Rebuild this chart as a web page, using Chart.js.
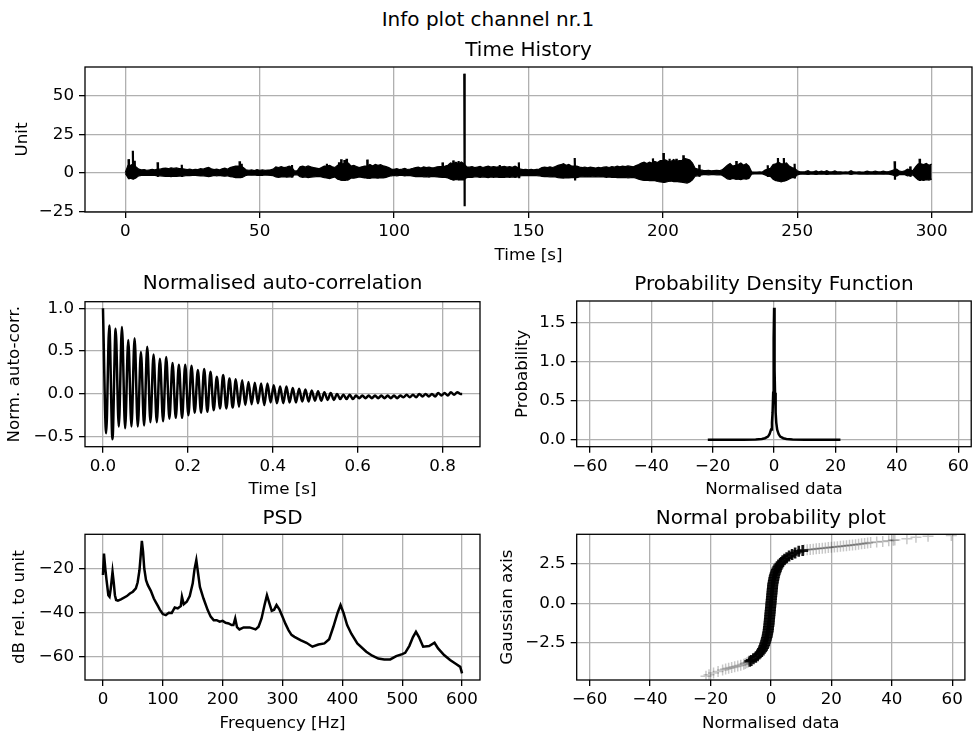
<!DOCTYPE html>
<html>
<head>
<meta charset="utf-8">
<script src="https://cdn.jsdelivr.net/npm/chart.js"></script>
<style>
html, body { margin: 0; padding: 0; background: #fff; overflow: hidden; }
body { width: 973px; height: 735px; position: relative; font-family: 'DejaVu Sans', sans-serif; }
canvas { position: absolute; }
#suptitle { position: absolute; left: 0; width: 976px; top: 7px; line-height: 24px; font-size: 20px; text-align: center; color: #000; }
</style>
</head>
<body>
<div id="suptitle">Info plot channel nr.1</div>
<canvas id="cTime"></canvas>
<canvas id="cCorr"></canvas>
<canvas id="cPdf"></canvas>
<canvas id="cPsd"></canvas>
<canvas id="cProb"></canvas>
<script>
// ---- time history: background band of the signal, one value per second ----
var thTime = [
  0,1,2,3,4,5,6,7,8,9,10,11,12,13,14,15,16,17,18,19,
  20,21,22,23,24,25,26,27,28,29,30,31,32,33,34,35,36,37,38,39,
  40,41,42,43,44,45,46,47,48,49,50,51,52,53,54,55,56,57,58,59,
  60,61,62,63,64,65,66,67,68,69,70,71,72,73,74,75,76,77,78,79,
  80,81,82,83,84,85,86,87,88,89,90,91,92,93,94,95,96,97,98,99,
  100,101,102,103,104,105,106,107,108,109,110,111,112,113,114,115,116,117,118,119,
  120,121,122,123,124,125,126,127,128,129,130,131,132,133,134,135,136,137,138,139,
  140,141,142,143,144,145,146,147,148,149,150,151,152,153,154,155,156,157,158,159,
  160,161,162,163,164,165,166,167,168,169,170,171,172,173,174,175,176,177,178,179,
  180,181,182,183,184,185,186,187,188,189,190,191,192,193,194,195,196,197,198,199,
  200,201,202,203,204,205,206,207,208,209,210,211,212,213,214,215,216,217,218,219,
  220,221,222,223,224,225,226,227,228,229,230,231,232,233,234,235,236,237,238,239,
  240,241,242,243,244,245,246,247,248,249,250,251,252,253,254,255,256,257,258,259,
  260,261,262,263,264,265,266,267,268,269,270,271,272,273,274,275,276,277,278,279,
  280,281,282,283,284,285,286,287,288,289,290,291,292,293,294,295,296,297,298,299,
  300
];
var thUpper = [
  0.3, 5, 5, 6, 4, 2.5, 2, 2.2, 1.8, 2,
  2.3, 2, 2.5, 2.5, 3, 3.2, 2.8, 3.4, 3, 3.3,
  2.8, 2.8, 2.6, 2.2, 2.5, 2, 2.4, 2.2, 2.8, 2.5,
  3.2, 3.6, 2.8, 2.2, 2.5, 2, 2.7, 3.1, 2.5, 3.5,
  4, 4.5, 4.5, 4.5, 3.5, 2, 1.8, 2, 1.6, 2.2,
  1.8, 2, 1.7, 1.9, 2.1, 2.5, 4, 3.6, 4.2, 3.5,
  3.8, 4.5, 3.5, 1.2, 1.5, 4, 4.5, 3.8, 4.6, 4,
  3.6, 3.2, 2.8, 3.5, 4.5, 4.5, 5, 4, 3.6, 5,
  6, 6, 6.5, 6.5, 4.5, 5, 4.2, 3.5, 4, 4.5,
  4.5, 5.5, 4.5, 5.6, 5, 5.4, 4.6, 4.2, 3.5, 2.6,
  2.4, 2.8, 2.2, 2.5, 3, 2.3, 2.6, 3, 3.5, 3.8,
  3.2, 4, 3.5, 3.9, 3.3, 3.6, 4, 4.2, 4.2, 4.5,
  5, 6.5, 6, 7, 6, 7.2, 6, 4, 3.8, 4.2,
  3.5, 3.9, 4.3, 3.6, 4, 4.4, 3.8, 4.2, 3.9, 4,
  4, 4.3, 3.8, 4.1, 3.7, 4.5, 3.5, 2.5, 2.2, 2.4,
  2, 2.3, 2.1, 2.4, 2.6, 3.5, 3.8, 3.5, 4, 3.6,
  4.2, 5, 5.4, 6, 5, 5.6, 4.5, 4.5, 4.5, 3.8,
  3.5, 3.9, 3.4, 3.8, 3.5, 3.2, 3.6, 3.3, 3.8, 4,
  3.6, 4.2, 3.8, 4.4, 4, 4.5, 4.2, 4.6, 4.3, 4,
  4.8, 5.5, 6.5, 7.1, 6.2, 7, 6.5, 7.5, 6.8, 8,
  8, 8.5, 7.5, 7.5, 8.8, 7.5, 8, 8, 9.5, 9,
  8.4, 6.5, 3, 2.5, 2, 1.7, 1.5, 1.8, 1.4, 1.6,
  1.8, 1.5, 2, 3.5, 5, 6.2, 4.5, 5, 5.5, 6.5,
  5, 6, 4.5, 0.8, 0.6, 0.6, 0.7, 0.6, 2, 2.5,
  3, 5.5, 6, 7, 6, 6, 6.5, 4.5, 3.5, 3,
  1.5, 0.8, 0.7, 0.9, 1.5, 0.7, 0.8, 1.4, 0.7, 1.2,
  0.8, 1.5, 0.7, 0.8, 1.4, 0.7, 0.8, 0.6, 0.7, 0.6,
  1.5, 0.7, 0.6, 0.8, 0.6, 0.7, 1.2, 0.8, 0.7, 1.3,
  0.8, 0.7, 1.2, 0.8, 1, 1.5, 2, 2.5, 1.2, 1,
  1.5, 2.5, 2, 1.5, 4, 6, 6, 5.5, 6.2, 5,
  5.8
];
var thLower = [
  -0.3, -3, -3.5, -4, -3, -1.8, -1.5, -1.6, -1.4, -1.5,
  -1.6, -1.5, -1.8, -1.8, -2, -2.2, -2, -2.3, -2, -2.2,
  -2, -2, -1.8, -1.6, -1.7, -1.5, -1.6, -1.7, -1.9, -1.8,
  -2.1, -2.4, -2, -1.6, -1.8, -1.5, -1.9, -2.1, -1.8, -2.4,
  -2.6, -3, -3, -3, -2.4, -1.5, -1.3, -1.4, -1.3, -1.5,
  -1.4, -1.5, -1.3, -1.4, -1.5, -1.7, -2.6, -2.8, -2.6, -2.4,
  -2.7, -2.5, -2.5, -1, -1.2, -2.4, -2.8, -2.5, -3, -2.7,
  -2.5, -2.4, -2.2, -2.6, -3, -3.2, -3.6, -3, -2.6, -4,
  -4.5, -4.8, -4.5, -4.4, -3.2, -3.4, -3, -2.6, -2.8, -3.2,
  -3.2, -3.5, -3, -3.2, -3.4, -3, -3.2, -2.8, -2.2, -1.8,
  -1.6, -1.8, -1.5, -1.6, -1.9, -1.6, -1.7, -2, -2.3, -2.4,
  -2.2, -2.5, -2.3, -2.6, -2.2, -2.4, -2.6, -2.7, -2.8, -2.8,
  -3.2, -4, -4.5, -4.2, -4.4, -4.5, -4.5, -3, -2.7, -2.8,
  -2.5, -2.6, -2.8, -2.5, -2.7, -3, -2.6, -2.8, -2.6, -2.8,
  -2.7, -2.9, -2.6, -2.8, -2.5, -2.8, -2.5, -1.8, -1.6, -1.7,
  -1.5, -1.7, -1.5, -1.7, -1.8, -2.2, -2.4, -2.3, -2.5, -2.4,
  -2.6, -3, -3.2, -3.3, -3, -3.2, -3, -3, -3, -2.6,
  -2.5, -2.6, -2.4, -2.6, -2.5, -2.3, -2.5, -2.4, -2.6, -2.8,
  -2.6, -2.9, -2.7, -3, -2.8, -3, -2.9, -3.1, -3, -2.8,
  -3.3, -4, -4.5, -4.8, -4.6, -5, -5, -5, -5.5, -5.8,
  -6, -6, -5.5, -5.2, -5.6, -5.4, -5.8, -6, -6.3, -6.5,
  -5.8, -4.5, -2, -1.8, -1.4, -1.1, -1, -1.2, -1, -1.1,
  -1.2, -1, -1.4, -2.6, -3.8, -4.2, -3.5, -4, -4, -4.3,
  -3.7, -4, -3.5, -0.7, -0.6, -0.6, -0.6, -0.6, -1.2, -2,
  -2.2, -4, -5, -5.2, -5.8, -5.2, -4.8, -3.8, -3, -3,
  -1.2, -0.8, -0.7, -0.8, -0.9, -0.7, -0.8, -0.9, -0.7, -0.8,
  -0.7, -0.9, -0.7, -0.7, -0.8, -0.6, -0.7, -0.6, -0.6, -0.6,
  -0.9, -0.6, -0.6, -0.7, -0.6, -0.7, -0.8, -0.7, -0.6, -0.8,
  -0.7, -0.6, -0.8, -0.7, -0.8, -1, -1.5, -2, -1, -0.9,
  -1.1, -1.8, -1.5, -1.2, -3, -4.5, -4.5, -4.8, -4.3, -4.6,
  -4
];
// narrow peaks standing out of the band: time, top, bottom
var peakTime = [1.2, 2.8, 3.5, 12, 21, 42.5, 43.3, 62, 75, 79.5, 80.3, 81.5, 82.3, 90, 118, 122, 124,
                126.1, 139.3, 146.4, 167.2, 196.3, 200.2, 202.5, 205, 207.6, 213.5, 227.3, 239, 242.8,
                245, 249, 286.2, 292, 295.5];
var peakTop = [9, 14.5, 8, 7, 5.4, 7.6, 6, 5.2, 6, 7, 9, 8.5, 9.3, 8.7, 6.9, 8.2, 7.8,
               64.5, 5.2, 6.9, 9.7, 9.5, 13, 9.3, 9.2, 11.5, 5.4, 7.8, 5, 9.7,
               9.7, 6, 7.6, 4.3, 9.3];
var peakBot = [-4, -4, -3.5, -2.5, -2.6, -3.2, -3, -3, -3.4, -4.5, -5, -5.2, -4.8, -3.8, -3, -4.8, -4.6,
               -21.5, -3, -3.4, -4.8, -5.2, -6.5, -5.5, -5.4, -6.5, -2.5, -4.3, -2.5, -5.5,
               -5.5, -3.5, -4.3, -2.5, -5.2];

// ---- normalised auto-correlation, peaks and troughs ----
var acLag = [
  0, 0.0075, 0.0149, 0.0224, 0.0298, 0.0373, 0.0447, 0.0522, 0.0596, 0.0671,
  0.0745, 0.0820, 0.0894, 0.0969, 0.1043, 0.1118, 0.1192, 0.1267, 0.1341, 0.1416,
  0.1490, 0.1565, 0.1639, 0.1714, 0.1788, 0.1863, 0.1937, 0.2012, 0.2086, 0.2161,
  0.2235, 0.2310, 0.2384, 0.2459, 0.2533, 0.2608, 0.2682, 0.2757, 0.2831, 0.2906,
  0.2980, 0.3055, 0.3129, 0.3204, 0.3278, 0.3353, 0.3427, 0.3502, 0.3576, 0.3651,
  0.3725, 0.3800, 0.3874, 0.3949, 0.4023, 0.4098, 0.4172, 0.4247, 0.4321, 0.4396,
  0.4470, 0.4545, 0.4619, 0.4694, 0.4768, 0.4843, 0.4917, 0.4992, 0.5066, 0.5141,
  0.5215, 0.5290, 0.5364, 0.5439, 0.5513, 0.5588, 0.5662, 0.5737, 0.5811, 0.5886,
  0.5960, 0.6035, 0.6109, 0.6184, 0.6258, 0.6333, 0.6407, 0.6482, 0.6556, 0.6631,
  0.6705, 0.6780, 0.6854, 0.6929, 0.7003, 0.7078, 0.7152, 0.7227, 0.7301, 0.7376,
  0.7450, 0.7525, 0.7599, 0.7674, 0.7748, 0.7823, 0.7897, 0.7972, 0.8046, 0.8121,
  0.8195, 0.8270, 0.8344, 0.8419, 0.8460
];
var acVal = [
  1.00, -0.46, 0.80, -0.53, 0.76, -0.38, 0.78, -0.40, 0.63, -0.38,
  0.65, -0.38, 0.49, -0.37, 0.55, -0.33, 0.46, -0.33, 0.41, -0.32,
  0.43, -0.29, 0.36, -0.28, 0.34, -0.28, 0.34, -0.25, 0.33, -0.22,
  0.28, -0.22, 0.29, -0.21, 0.26, -0.19, 0.20, -0.17, 0.22, -0.17,
  0.18, -0.16, 0.17, -0.15, 0.16, -0.13, 0.14, -0.12, 0.13, -0.11,
  0.12, -0.13, 0.12, -0.10, 0.10, -0.11, 0.085, -0.11, 0.085, -0.10,
  0.07, -0.10, 0.06, -0.09, 0.05, -0.09, 0.04, -0.08, 0.03, -0.08,
  0.02, -0.07, 0.01, -0.07, 0.00, -0.06, -0.01, -0.06, -0.01, -0.06,
  -0.02, -0.05, -0.02, -0.05, -0.02, -0.05, -0.02, -0.05, -0.02, -0.05,
  -0.02, -0.05, -0.02, -0.05, -0.02, -0.04, -0.01, -0.04, -0.01, -0.04,
  0.00, -0.03, 0.00, -0.03, 0.00, -0.03, 0.01, -0.02, 0.01, -0.02,
  0.02, -0.01, 0.02, 0.00, 0.00
];

// ---- probability density function ----
var pdfX = [-21.6, -15, -10, -6, -4, -3, -2, -1.5, -1, -0.7, -0.5, -0.3, -0.2, -0.1, 0,
            0.1, 0.2, 0.3, 0.5, 0.7, 1, 1.5, 2, 3, 4, 6, 10, 15, 21.6];
var pdfY = [0, 0, 0.001, 0.004, 0.01, 0.02, 0.04, 0.07, 0.13, 0.22, 0.35, 0.6, 0.9, 1.3, 1.69,
            1.3, 0.9, 0.6, 0.35, 0.22, 0.13, 0.07, 0.04, 0.02, 0.01, 0.004, 0.001, 0, 0];

// ---- PSD ----
var psdFreq = [
  0, 1.7, 4, 6, 9, 11, 13, 16, 18, 20, 22, 25, 30, 40, 45, 50, 55, 58, 61, 63,
  65, 67, 69, 72, 75, 80, 85, 88, 92, 95, 100, 105, 110, 115, 120, 125, 130, 132, 135, 140,
  145, 150, 153, 156, 159, 162, 168, 175, 180, 185, 190, 195, 200, 205, 210, 215, 218, 221, 224, 228,
  235, 245, 255, 260, 265, 270, 274, 278, 282, 286, 290, 295, 300, 305, 310, 315, 320, 330, 340, 350,
  360, 370, 378, 385, 392, 397, 402, 408, 415, 425, 440, 450, 460, 470, 480, 490, 500, 505, 512, 518,
  523, 528, 535, 545, 554, 560, 570, 580, 590, 597, 600
];
var psdDb = [
  -22.7, -12.9, -20, -25, -31.9, -32.6, -29, -21.2, -26, -31.9, -34.1, -34.4, -33.8, -32.3, -31.1, -30.3, -28.8, -26, -20.5, -14,
  -7.1, -12, -19.7, -25, -27.3, -29.9, -33.4, -34.9, -36.9, -38.5, -40.5, -41, -39.9, -40, -37.5, -37.9, -36.9, -32.6, -36, -34.9,
  -32.3, -26.5, -20, -15.9, -22, -28.1, -33.4, -38.7, -41.7, -43.3, -43.3, -44, -43.6, -44.5, -44.8, -45.5, -45.5, -42.5, -46.5, -47.5,
  -46.6, -46.6, -47.5, -46.3, -42.5, -36.4, -31.9, -35.5, -39, -38.5, -36.4, -38.5, -41.7, -45, -47.8, -50, -50.9, -52.4, -53.6, -55.4,
  -54.4, -53.9, -52, -46.3, -40, -36.4, -40, -45.5, -49.5, -53.9, -57.7, -59.5, -60.8, -61.2, -61.2, -59.7, -58.8, -58.2, -55, -51,
  -48.6, -51, -55.4, -55.1, -53.6, -56.2, -59.2, -61.5, -63.3, -64.6, -67.6
];

// ---- normal probability plot ----
var npCoreX = [
  -7.0, -6.5, -5.8, -5.0, -4.4, -3.9, -3.5, -3.1, -2.8, -2.5, -2.3, -2.1, -1.9, -1.75, -1.6, -1.45, -1.3, -1.2, -1.1, -1.0, -0.9,
  -0.85, -0.8, -0.7, -0.65, -0.6, -0.55, -0.5, -0.45, -0.4, -0.35, -0.3, -0.25, -0.2, -0.15, -0.1, -0.05, 0, 0.05, 0.1, 0.15,
  0.2, 0.25, 0.3, 0.35, 0.4, 0.45, 0.5, 0.55, 0.6, 0.7, 0.8, 0.9, 1.0, 1.1, 1.25, 1.4, 1.6, 1.8, 2.0, 2.3,
  2.6, 3.0, 3.4, 3.9, 4.5, 5.2, 6.0, 7.0, 8.0, 9.2, 10.5
];
var npCoreY = [
  -3.65, -3.6, -3.5, -3.4, -3.3, -3.2, -3.1, -3.0, -2.9, -2.8, -2.7, -2.6, -2.5, -2.4, -2.3, -2.2, -2.1, -2.0, -1.9, -1.8, -1.7,
  -1.6, -1.5, -1.4, -1.3, -1.2, -1.1, -1.0, -0.9, -0.8, -0.7, -0.6, -0.5, -0.4, -0.3, -0.2, -0.1, 0, 0.1, 0.2, 0.3,
  0.4, 0.5, 0.6, 0.7, 0.8, 0.9, 1.0, 1.1, 1.2, 1.3, 1.4, 1.5, 1.6, 1.7, 1.8, 1.9, 2.0, 2.1, 2.2, 2.3,
  2.4, 2.5, 2.6, 2.7, 2.8, 2.9, 3.0, 3.1, 3.2, 3.3, 3.35
];
var npTailX = [
  -21.5, -20.5, -19, -17.5, -16, -15, -14, -13, -12, -11, -10, -9, -8.5, -8, -7.5,
  11, 12, 13, 14, 15, 16, 17, 18, 19, 20, 21, 22, 23, 24, 25, 26, 27, 28, 29, 30,
  31, 32, 33, 35, 37, 39, 40.5, 41, 45, 48, 52, 59.7
];
var npTailY = [
  -4.6, -4.5, -4.4, -4.3, -4.2, -4.15, -4.1, -4.05, -4.0, -3.95, -3.9, -3.85, -3.8, -3.75, -3.7,
  3.38, 3.4, 3.42, 3.44, 3.46, 3.48, 3.5, 3.52, 3.54, 3.56, 3.58, 3.6, 3.62, 3.64, 3.66, 3.68, 3.7, 3.72, 3.75, 3.78,
  3.8, 3.83, 3.86, 3.9, 3.93, 3.97, 4.0, 4.02, 4.1, 4.2, 4.25, 4.3
];

function pts(xs, ys) {
  return xs.map(function (x, i) { return { x: x, y: ys[i] }; });
}

// each peak as a short near-vertical stroke, broken from the next one
function peakPts() {
  var out = [];
  peakTime.forEach(function (t, i) {
    out.push({ x: t, y: peakTop[i] }, { x: t + 0.15, y: peakBot[i] }, { x: t + 0.2, y: null });
  });
  return out;
}

Chart.defaults.font.family = "'DejaVu Sans', sans-serif";
Chart.defaults.color = '#000';

// box round the plot area, as the spines in the original
var framePlugin = {
  id: 'frame',
  afterDatasetsDraw: function (chart) {
    var a = chart.chartArea, ctx = chart.ctx;
    ctx.save();
    ctx.strokeStyle = '#000';
    ctx.lineWidth = 1.3;
    ctx.strokeRect(a.left, a.top, a.right - a.left, a.bottom - a.top);
    ctx.restore();
  }
};

function axis(min, max, step, digits, title, isX, size, titlePad, tickPad) {
  return {
    type: 'linear',
    min: min,
    max: max,
    ticks: {
      stepSize: step,
      includeBounds: false,
      autoSkip: false,
      maxRotation: 0,
      padding: tickPad,
      color: '#000',
      font: { size: 16.7 },
      callback: function (v) { return Number(v).toFixed(digits).replace('-', '\u2212'); }
    },
    grid: { color: '#b0b0b0', lineWidth: 1.3, tickColor: '#000', tickWidth: 1.3, tickLength: 6 },
    border: { display: false },
    title: {
      display: true,
      text: title,
      color: '#000',
      font: { size: 16.7, lineHeight: 1.2 },
      padding: isX ? { top: 0, bottom: titlePad } : { top: titlePad, bottom: 0 }
    },
    afterFit: function (s) {
      if (isX) s.height = size; else s.width = size;
    }
  };
}

// g: canvas box and plot area in page pixels, plus text centres
function plot(id, type, g, titleText, xs, ys, datasets) {
  var cv = document.getElementById(id);
  cv.width = g.w; cv.height = g.h;
  cv.style.left = g.x + 'px'; cv.style.top = g.y + 'px';
  var tTop = g.titleY - g.y - 12;
  var tBot = g.T - g.y - tTop - 24;
  return new Chart(cv.getContext('2d'), {
    type: type,
    data: { datasets: datasets },
    options: {
      responsive: false,
      animation: false,
      devicePixelRatio: 1,
      events: [],
      layout: { padding: { left: 0, top: 0, bottom: 0, right: g.x + g.w - g.R } },
      plugins: {
        legend: { display: false },
        tooltip: { enabled: false },
        title: {
          display: true, text: titleText, fullSize: false, color: '#000',
          font: { size: 20, weight: 'normal', lineHeight: 1.2 },
          padding: { top: tTop, bottom: tBot }
        }
      },
      scales: {
        x: axis(xs.min, xs.max, xs.step, xs.digits, xs.title, true, g.y + g.h - g.B, g.y + g.h - g.xLabelY - 10, 4),
        y: axis(ys.min, ys.max, ys.step, ys.digits, ys.title, false, g.L - g.x, g.yLabelX - g.x - 10, 5)
      }
    },
    plugins: [framePlugin]
  });
}

function lineSet(data, width) {
  return { data: data, borderColor: '#000', backgroundColor: '#000', borderWidth: width,
           pointRadius: 0, tension: 0, fill: false, spanGaps: false };
}

// Time history
var upper = lineSet(pts(thTime, thUpper), 1.2);
upper.fill = '+1';
plot('cTime', 'line',
  { x: 0, y: 28, w: 973, h: 244, L: 85, T: 67, R: 972, B: 212, titleY: 51, xLabelY: 255.5, yLabelX: 23 },
  'Time History',
  { min: -15, max: 315, step: 50, digits: 0, title: 'Time [s]' },
  { min: -25.3, max: 68.8, step: 25, digits: 0, title: 'Unit' },
  [upper, lineSet(pts(thTime, thLower), 1.2), lineSet(peakPts(), 2.2)]);

// Auto-correlation
var acSet = lineSet(pts(acLag, acVal), 2.5);
acSet.cubicInterpolationMode = 'monotone';
plot('cCorr', 'line',
  { x: 0, y: 262, w: 490, h: 238, L: 85, T: 301.7, R: 480, B: 446.7, titleY: 284, xLabelY: 490, yLabelX: 15 },
  'Normalised auto-correlation',
  { min: -0.0423, max: 0.888, step: 0.2, digits: 1, title: 'Time [s]' },
  { min: -0.617, max: 1.077, step: 0.5, digits: 1, title: 'Norm. auto-corr.' },
  [acSet]);

// PDF
plot('cPdf', 'line',
  { x: 490, y: 262, w: 483, h: 238, L: 576.7, T: 301, R: 972.3, B: 446.7, titleY: 284.5, xLabelY: 490, yLabelX: 522.5 },
  'Probability Density Function',
  { min: -64.3, max: 64.2, step: 20, digits: 0, title: 'Normalised data' },
  { min: -0.0885, max: 1.775, step: 0.5, digits: 1, title: 'Probability' },
  [lineSet(pts(pdfX, pdfY), 2.5)]);

// PSD
plot('cPsd', 'line',
  { x: 0, y: 497, w: 490, h: 238, L: 85, T: 534.3, R: 480, B: 680, titleY: 519, xLabelY: 723.5, yLabelX: 20 },
  'PSD',
  { min: -30, max: 630, step: 100, digits: 0, title: 'Frequency [Hz]' },
  { min: -70.6, max: -4.1, step: 20, digits: 0, title: 'dB rel. to unit' },
  [lineSet(pts(psdFreq, psdDb), 2.5)]);

// Normal probability plot
function crossSet(data, alpha, width) {
  return { data: data, pointStyle: 'cross', pointRadius: 5.5, pointBorderWidth: width,
           borderColor: 'rgba(0,0,0,' + alpha + ')', backgroundColor: 'rgba(0,0,0,' + alpha + ')' };
}
plot('cProb', 'scatter',
  { x: 490, y: 497, w: 483, h: 238, L: 576.7, T: 534.3, R: 972.3, B: 680, titleY: 518.5, xLabelY: 723.5, yLabelX: 508 },
  'Normal probability plot',
  { min: -64.3, max: 64.2, step: 20, digits: 0, title: 'Normalised data' },
  { min: -4.84, max: 4.38, step: 2.5, digits: 1, title: 'Gaussian axis' },
  [crossSet(pts(npTailX, npTailY), 0.22, 1.5), crossSet(pts(npCoreX, npCoreY), 0.9, 2.6)]);
</script>
</body>
</html>
